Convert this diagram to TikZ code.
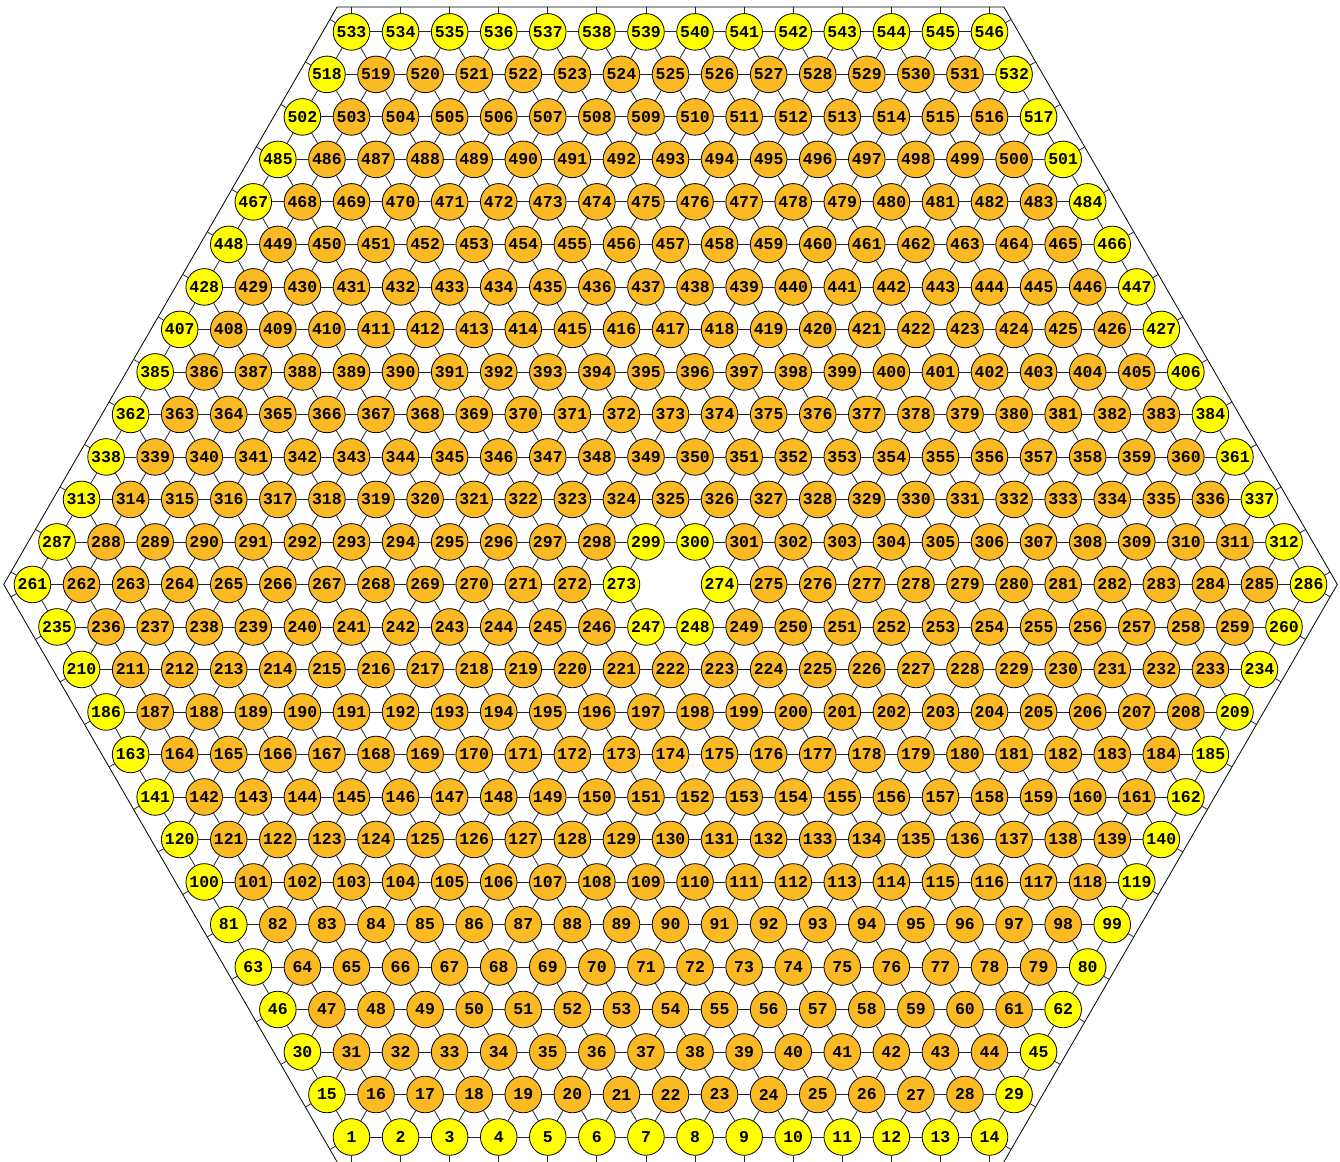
\documentclass[tikz,border=0pt]{standalone}
\usepackage{fontspec}
\setmonofont{Liberation Mono}
\usetikzlibrary{calc}
\definecolor{nodeyellow}{RGB}{255,255,0}
\definecolor{nodeorange}{RGB}{251,186,36}
\newcount\hexnum
\begin{document}
\begin{tikzpicture}[x=1pt,y=1pt,
  site/.style={circle,draw=black,line width=0.8pt,minimum size=36.6pt,inner sep=0pt,
    font=\fontsize{16.5}{18}\selectfont\ttfamily\bfseries},
  bond/.style={draw=black!85,line width=0.8pt},
  stub/.style={draw=black!85,line width=0.8pt},
  rim/.style={draw=black,line width=0.8pt}]
\useasboundingbox (0,0) rectangle (1340,1161);
\clip (0,0) rectangle (1340,1161);
\coordinate (ctr) at (670.5,576.55);
% nodes
\global\hexnum=0
\foreach \r in {0,...,26}{
  \pgfmathtruncatemacro{\k}{min(\r,26-\r)}
  \pgfmathtruncatemacro{\last}{13+\k}
  \foreach \c in {0,...,\last}{
    \pgfmathtruncatemacro{\hole}{(\r==13)&&(\c==13)}
    \ifnum\hole=0
      \global\advance\hexnum by 1
      \pgfmathtruncatemacro{\rimnode}{(\r==0)||(\r==26)||(\c==0)||(\c==\last)||((\r==13)&&((\c==12)||(\c==14)))||(((\r==12)||(\r==14))&&((\c==12)||(\c==13)))}
      \ifnum\rimnode=1 \def\fillcol{nodeyellow}\else\def\fillcol{nodeorange}\fi
      \node[site,fill=\fillcol] (n-\r-\c) at ({670.5+(\c-(13+\k)/2)*49.08},{24+\r*42.504}) {\the\hexnum};
    \fi
  }
}
% bonds
\foreach \r in {0,...,26}{
  \pgfmathtruncatemacro{\k}{min(\r,26-\r)}
  \pgfmathtruncatemacro{\last}{13+\k}
  \pgfmathtruncatemacro{\up}{\r+1}
  \foreach \c in {0,...,\last}{
    \pgfmathtruncatemacro{\hole}{(\r==13)&&(\c==13)}
    \ifnum\hole=0
      \pgfmathtruncatemacro{\cn}{\c+1}
      \pgfmathtruncatemacro{\cp}{\c-1}
      % horizontal
      \pgfmathtruncatemacro{\doh}{(\c<\last)&&!((\r==13)&&((\c==12)||(\c==13)))}
      \ifnum\doh=1 \draw[bond] (n-\r-\c) -- (n-\r-\cn); \fi
      \ifnum\r<13
        \pgfmathtruncatemacro{\dul}{!((\r==12)&&(\c==13))}
        \pgfmathtruncatemacro{\dur}{!((\r==12)&&(\c==12))}
        \ifnum\dul=1 \draw[bond] (n-\r-\c) -- (n-\up-\c); \fi
        \ifnum\dur=1 \draw[bond] (n-\r-\c) -- (n-\up-\cn); \fi
      \else
        \ifnum\r<26
          \ifnum\c>0 \draw[bond] (n-\r-\c) -- (n-\up-\cp); \fi
          \ifnum\c<\last \draw[bond] (n-\r-\c) -- (n-\up-\c); \fi
        \fi
      \fi
    \fi
  }
}
% stubs to the rim
\foreach \r in {0,...,26}{
  \pgfmathtruncatemacro{\k}{min(\r,26-\r)}
  \pgfmathtruncatemacro{\last}{13+\k}
  \ifnum\r=0
    \foreach \c in {0,...,\last}{\draw[stub] (n-\r-\c.270) -- ($(n-\r-\c.center)+(270:24.5)$);}
  \fi
  \ifnum\r=26
    \foreach \c in {0,...,\last}{\draw[stub] (n-\r-\c.90) -- ($(n-\r-\c.center)+(90:24.5)$);}
  \fi
  \ifnum\r<14
    \draw[stub] (n-\r-0.210) -- ($(n-\r-0.center)+(210:24.5)$);
    \draw[stub] (n-\r-\last.330) -- ($(n-\r-\last.center)+(330:24.5)$);
  \fi
  \ifnum\r>12
    \draw[stub] (n-\r-0.150) -- ($(n-\r-0.center)+(150:24.5)$);
    \draw[stub] (n-\r-\last.30) -- ($(n-\r-\last.center)+(30:24.5)$);
  \fi
}
% hexagonal rim (its bottom side lies just outside the picture)
\draw[rim] (ctr) +(300:666.8) -- +(0:666.8) -- +(60:666.8) -- +(120:666.8) -- +(180:666.8) -- +(240:666.8);
\end{tikzpicture}
\end{document}
